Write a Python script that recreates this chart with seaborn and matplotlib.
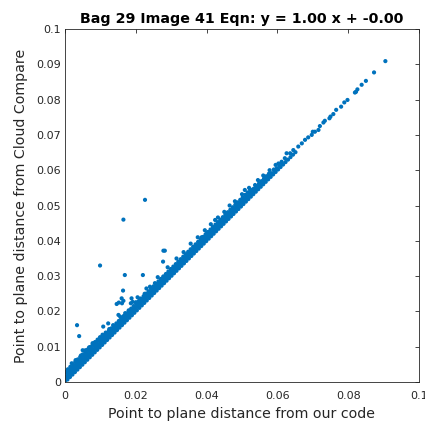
import matplotlib
matplotlib.use("Agg")
import matplotlib.pyplot as plt
import pandas as pd
import seaborn as sns

# Point-to-plane distances (m): our implementation vs. CloudCompare

# main diagonal of the dense band (both tools agree)
band_ours = [0.0000, 0.0007, 0.0014, 0.0021, 0.0028, 0.0035, 0.0042, 0.0049, 0.0056, 0.0063,
             0.0070, 0.0077, 0.0084, 0.0091, 0.0098, 0.0105, 0.0112, 0.0119, 0.0126, 0.0133,
             0.0140, 0.0147, 0.0154, 0.0161, 0.0168, 0.0175, 0.0182, 0.0189, 0.0196, 0.0203,
             0.0210, 0.0217, 0.0224, 0.0231, 0.0238, 0.0245, 0.0252, 0.0259, 0.0266, 0.0273,
             0.0280, 0.0287, 0.0294, 0.0301, 0.0308, 0.0315, 0.0322, 0.0329, 0.0336, 0.0343,
             0.0350, 0.0357, 0.0364, 0.0371, 0.0378, 0.0385, 0.0392, 0.0399, 0.0406, 0.0413,
             0.0420, 0.0427, 0.0434, 0.0441, 0.0448, 0.0455, 0.0462, 0.0469, 0.0476, 0.0483,
             0.0490, 0.0497, 0.0504, 0.0511, 0.0518, 0.0525, 0.0532, 0.0539, 0.0546, 0.0553,
             0.0560, 0.0567, 0.0574, 0.0581, 0.0588, 0.0595, 0.0602, 0.0609, 0.0616, 0.0623,
             0.0630, 0.0637, 0.0644, 0.0651]
band_cc = [0.0000, 0.0007, 0.0014, 0.0021, 0.0028, 0.0035, 0.0042, 0.0049, 0.0056, 0.0063,
           0.0070, 0.0077, 0.0084, 0.0091, 0.0098, 0.0105, 0.0112, 0.0119, 0.0126, 0.0133,
           0.0140, 0.0147, 0.0154, 0.0161, 0.0168, 0.0175, 0.0182, 0.0189, 0.0196, 0.0203,
           0.0210, 0.0217, 0.0224, 0.0231, 0.0238, 0.0245, 0.0252, 0.0259, 0.0266, 0.0273,
           0.0280, 0.0287, 0.0294, 0.0301, 0.0308, 0.0315, 0.0322, 0.0329, 0.0336, 0.0343,
           0.0350, 0.0357, 0.0364, 0.0371, 0.0378, 0.0385, 0.0392, 0.0399, 0.0406, 0.0413,
           0.0420, 0.0427, 0.0434, 0.0441, 0.0448, 0.0455, 0.0462, 0.0469, 0.0476, 0.0483,
           0.0490, 0.0497, 0.0504, 0.0511, 0.0518, 0.0525, 0.0532, 0.0539, 0.0546, 0.0553,
           0.0560, 0.0567, 0.0574, 0.0581, 0.0588, 0.0595, 0.0602, 0.0609, 0.0616, 0.0623,
           0.0630, 0.0637, 0.0644, 0.0651]

# second layer of the band, CloudCompare slightly larger
layer2_ours = [0.00035, 0.00105, 0.00175, 0.00245, 0.00315, 0.00385, 0.00455, 0.00525, 0.00595, 0.00665,
               0.00735, 0.00805, 0.00875, 0.00945, 0.01015, 0.01085, 0.01155, 0.01225, 0.01295, 0.01365,
               0.01435, 0.01505, 0.01575, 0.01645, 0.01715, 0.01785, 0.01855, 0.01925, 0.01995, 0.02065,
               0.02135, 0.02205, 0.02275, 0.02345, 0.02415, 0.02485, 0.02555, 0.02625, 0.02695, 0.02765,
               0.02835, 0.02905, 0.02975, 0.03045, 0.03115, 0.03185, 0.03255, 0.03325, 0.03395, 0.03465,
               0.03535, 0.03605, 0.03675, 0.03745, 0.03815, 0.03885, 0.03955, 0.04025, 0.04095, 0.04165,
               0.04235, 0.04305, 0.04375, 0.04445, 0.04515, 0.04585, 0.04655, 0.04725, 0.04795, 0.04865,
               0.04935, 0.05005, 0.05075, 0.05145, 0.05215, 0.05285, 0.05355, 0.05425, 0.05495, 0.05565,
               0.05635, 0.05705, 0.05775, 0.05845, 0.05915, 0.05985, 0.06055, 0.06125]
layer2_cc = [0.00105, 0.00175, 0.00245, 0.00315, 0.00385, 0.00455, 0.00525, 0.00595, 0.00665, 0.00735,
             0.00805, 0.00875, 0.00945, 0.01015, 0.01085, 0.01155, 0.01225, 0.01295, 0.01365, 0.01435,
             0.01505, 0.01575, 0.01645, 0.01715, 0.01785, 0.01855, 0.01925, 0.01995, 0.02065, 0.02135,
             0.02205, 0.02275, 0.02345, 0.02415, 0.02485, 0.02555, 0.02625, 0.02695, 0.02765, 0.02835,
             0.02905, 0.02975, 0.03045, 0.03115, 0.03185, 0.03255, 0.03325, 0.03395, 0.03465, 0.03535,
             0.03605, 0.03675, 0.03745, 0.03815, 0.03885, 0.03955, 0.04025, 0.04095, 0.04165, 0.04235,
             0.04305, 0.04375, 0.04445, 0.04515, 0.04585, 0.04655, 0.04725, 0.04795, 0.04865, 0.04935,
             0.05005, 0.05075, 0.05145, 0.05215, 0.05285, 0.05355, 0.05425, 0.05495, 0.05565, 0.05635,
             0.05705, 0.05775, 0.05845, 0.05915, 0.05985, 0.06055, 0.06125, 0.06195]

# third layer of the band
layer3_ours = [0.0002, 0.0009, 0.0016, 0.0023, 0.0030, 0.0037, 0.0044, 0.0051, 0.0058, 0.0065,
               0.0072, 0.0079, 0.0086, 0.0093, 0.0100, 0.0107, 0.0114, 0.0121, 0.0128, 0.0135,
               0.0142, 0.0149, 0.0156, 0.0163, 0.0170, 0.0177, 0.0184, 0.0191, 0.0198, 0.0205,
               0.0212, 0.0219, 0.0226, 0.0233, 0.0240, 0.0247, 0.0254, 0.0261, 0.0268, 0.0275,
               0.0282, 0.0289, 0.0296, 0.0303, 0.0310, 0.0317, 0.0324, 0.0331, 0.0338, 0.0345,
               0.0352, 0.0359, 0.0366, 0.0373, 0.0380, 0.0387, 0.0394, 0.0401, 0.0408, 0.0415,
               0.0422, 0.0429, 0.0436, 0.0443, 0.0450, 0.0457, 0.0464, 0.0471, 0.0478, 0.0485,
               0.0492, 0.0499, 0.0506, 0.0513, 0.0520, 0.0527, 0.0534, 0.0541, 0.0548, 0.0555,
               0.0562, 0.0569, 0.0576]
layer3_cc = [0.0016, 0.0023, 0.0030, 0.0037, 0.0044, 0.0051, 0.0058, 0.0065, 0.0072, 0.0079,
             0.0086, 0.0093, 0.0100, 0.0107, 0.0114, 0.0121, 0.0128, 0.0135, 0.0142, 0.0149,
             0.0156, 0.0163, 0.0170, 0.0177, 0.0184, 0.0191, 0.0198, 0.0205, 0.0212, 0.0219,
             0.0226, 0.0233, 0.0240, 0.0247, 0.0254, 0.0261, 0.0268, 0.0275, 0.0282, 0.0289,
             0.0296, 0.0303, 0.0310, 0.0317, 0.0324, 0.0331, 0.0338, 0.0345, 0.0352, 0.0359,
             0.0366, 0.0373, 0.0380, 0.0387, 0.0394, 0.0401, 0.0408, 0.0415, 0.0422, 0.0429,
             0.0436, 0.0443, 0.0450, 0.0457, 0.0464, 0.0471, 0.0478, 0.0485, 0.0492, 0.0499,
             0.0506, 0.0513, 0.0520, 0.0527, 0.0534, 0.0541, 0.0548, 0.0555, 0.0562, 0.0569,
             0.0576, 0.0583, 0.0590]

# fourth layer, top of the dense band
layer4_ours = [0.0005, 0.0012, 0.0019, 0.0026, 0.0033, 0.0040, 0.0047, 0.0054, 0.0061, 0.0068,
               0.0075, 0.0082, 0.0089, 0.0096, 0.0103, 0.0110, 0.0117, 0.0124, 0.0131, 0.0138,
               0.0145, 0.0152, 0.0159, 0.0166, 0.0173, 0.0180, 0.0187, 0.0194, 0.0201, 0.0208,
               0.0215, 0.0222, 0.0229, 0.0236, 0.0243, 0.0250, 0.0257, 0.0264, 0.0271, 0.0278,
               0.0285, 0.0292, 0.0299, 0.0306, 0.0313, 0.0320, 0.0327, 0.0334, 0.0341, 0.0348,
               0.0355, 0.0362, 0.0369, 0.0376, 0.0383, 0.0390, 0.0397, 0.0404, 0.0411, 0.0418,
               0.0425, 0.0432, 0.0439, 0.0446, 0.0453, 0.0460, 0.0467, 0.0474, 0.0481, 0.0488,
               0.0495, 0.0502, 0.0509, 0.0516, 0.0523]
layer4_cc = [0.0026, 0.0033, 0.0040, 0.0047, 0.0054, 0.0061, 0.0068, 0.0075, 0.0082, 0.0089,
             0.0096, 0.0103, 0.0110, 0.0117, 0.0124, 0.0131, 0.0138, 0.0145, 0.0152, 0.0159,
             0.0166, 0.0173, 0.0180, 0.0187, 0.0194, 0.0201, 0.0208, 0.0215, 0.0222, 0.0229,
             0.0236, 0.0243, 0.0250, 0.0257, 0.0264, 0.0271, 0.0278, 0.0285, 0.0292, 0.0299,
             0.0306, 0.0313, 0.0320, 0.0327, 0.0334, 0.0341, 0.0348, 0.0355, 0.0362, 0.0369,
             0.0376, 0.0383, 0.0390, 0.0397, 0.0404, 0.0411, 0.0418, 0.0425, 0.0432, 0.0439,
             0.0446, 0.0453, 0.0460, 0.0467, 0.0474, 0.0481, 0.0488, 0.0495, 0.0502, 0.0509,
             0.0516, 0.0523, 0.0530, 0.0537, 0.0544]

# extra thickness of the band near the origin
layer5_ours = [0.0001, 0.0008, 0.0015, 0.0022, 0.0029, 0.0036, 0.0043, 0.0050, 0.0057, 0.0064,
               0.0071, 0.0078, 0.0085, 0.0092, 0.0099, 0.0106]
layer5_cc = [0.0029, 0.0036, 0.0043, 0.0050, 0.0057, 0.0064, 0.0071, 0.0078, 0.0085, 0.0092,
             0.0099, 0.0106, 0.0113, 0.0120, 0.0127, 0.0134]

# scattered points along the upper edge of the band
edge_ours = [0.0019, 0.0030, 0.0045, 0.0068, 0.0085, 0.0095, 0.0105, 0.0115, 0.0125, 0.0133,
             0.0156, 0.0170, 0.0180, 0.0200, 0.0212, 0.0225, 0.0240, 0.0254, 0.0278, 0.0306,
             0.0325, 0.0348, 0.0367, 0.0386, 0.0400, 0.0424, 0.0440, 0.0460, 0.0470, 0.0490,
             0.0508, 0.0530, 0.0537, 0.0550, 0.0565, 0.0590,
             0.0205, 0.0230, 0.0262, 0.0290, 0.0315, 0.0335, 0.0355, 0.0375, 0.0395, 0.0412,
             0.0432, 0.0450, 0.0465, 0.0480, 0.0500, 0.0520, 0.0545, 0.0560, 0.0578, 0.0595]
edge_cc = [0.0053, 0.0062, 0.0075, 0.0098, 0.0112, 0.0120, 0.0128, 0.0140, 0.0150, 0.0143,
           0.0185, 0.0195, 0.0203, 0.0226, 0.0236, 0.0250, 0.0270, 0.0280, 0.0298, 0.0322,
           0.0341, 0.0365, 0.0383, 0.0410, 0.0420, 0.0459, 0.0458, 0.0473, 0.0485, 0.0505,
           0.0544, 0.0545, 0.0558, 0.0563, 0.0578, 0.0602,
           0.0240, 0.0265, 0.0297, 0.0325, 0.0350, 0.0368, 0.0392, 0.0410, 0.0430, 0.0447,
           0.0466, 0.0482, 0.0500, 0.0512, 0.0532, 0.0550, 0.0572, 0.0585, 0.0600, 0.0615]

# sparse points at the far end of the range
tail_ours = [0.0603, 0.0612, 0.0621, 0.0626, 0.0636, 0.0645, 0.0659, 0.0669, 0.0678, 0.0687,
             0.0697, 0.0700, 0.0706, 0.0716, 0.0720, 0.0730, 0.0734, 0.0747, 0.0750, 0.0758,
             0.0766, 0.0780, 0.0789, 0.0798, 0.0819, 0.0822, 0.0826, 0.0838, 0.0850, 0.0873,
             0.0905]
tail_cc = [0.0619, 0.0624, 0.0634, 0.0648, 0.0648, 0.0657, 0.0667, 0.0676, 0.0686, 0.0693,
           0.0700, 0.0709, 0.0709, 0.0714, 0.0725, 0.0735, 0.0740, 0.0747, 0.0752, 0.0759,
           0.0771, 0.0780, 0.0792, 0.0799, 0.0820, 0.0822, 0.0829, 0.0842, 0.0853, 0.0877,
           0.0909]

# isolated outliers well above the band
outlier_ours = [0.0226, 0.0165, 0.0099, 0.0278, 0.0282, 0.0277, 0.0169, 0.0220, 0.0164, 0.0160,
                0.0188, 0.0034, 0.0040, 0.0050, 0.0058, 0.0078, 0.0146, 0.0152, 0.0161, 0.0165,
                0.0186, 0.0191, 0.0108, 0.0122, 0.0136, 0.0151]
outlier_cc = [0.0516, 0.0460, 0.0330, 0.0372, 0.0372, 0.0341, 0.0303, 0.0303, 0.0259, 0.0237,
              0.0237, 0.0161, 0.0130, 0.0090, 0.0090, 0.0110, 0.0221, 0.0225, 0.0223, 0.0230,
              0.0223, 0.0227, 0.0157, 0.0166, 0.0161, 0.0190]

title_text = "Bag 29 Image 41 Eqn: y = 1.00 x + -0.00"

x_ticks = [0, 0.02, 0.04, 0.06, 0.08, 0.1]
x_tick_labels = ["0", "0.02", "0.04", "0.06", "0.08", "0.1"]
y_ticks = [0, 0.01, 0.02, 0.03, 0.04, 0.05, 0.06, 0.07, 0.08, 0.09, 0.1]
y_tick_labels = ["0", "0.01", "0.02", "0.03", "0.04", "0.05", "0.06", "0.07", "0.08", "0.09", "0.1"]

df = pd.DataFrame({
    "ours": (band_ours + layer2_ours + layer3_ours + layer4_ours + layer5_ours
             + edge_ours + tail_ours + outlier_ours),
    "cc": (band_cc + layer2_cc + layer3_cc + layer4_cc + layer5_cc
           + edge_cc + tail_cc + outlier_cc),
})

sns.set_style("white")
plt.rcParams["font.family"] = ["DejaVu Sans"]

axis_gray = "#262626"
dot_blue = "#0072BD"

fig = plt.figure(figsize=(4.25, 4.22), dpi=100)
ax = fig.add_axes([65 / 425, 40 / 422, 354 / 425, 353 / 422])

sns.scatterplot(data=df, x="ours", y="cc", ax=ax, color=dot_blue, s=9,
                linewidth=0, edgecolor="none", legend=False)

ax.set_xlim(0, 0.1)
ax.set_ylim(0, 0.1)
ax.set_xticks(x_ticks)
ax.set_xticklabels(x_tick_labels)
ax.set_yticks(y_ticks)
ax.set_yticklabels(y_tick_labels)

for side in ["top", "right", "bottom", "left"]:
    ax.spines[side].set_visible(True)
    ax.spines[side].set_color(axis_gray)
    ax.spines[side].set_linewidth(0.6)

ax.tick_params(direction="in", length=3, width=0.6, colors=axis_gray,
               labelsize=8, top=True, right=True)
ax.tick_params(axis="x", pad=6.5)
ax.tick_params(axis="y", pad=3)
for lbl in ax.get_xticklabels() + ax.get_yticklabels():
    lbl.set_color(axis_gray)

ax.set_xlabel("Point to plane distance from our code", fontsize=10.2, color=axis_gray, labelpad=4)
ax.set_ylabel("Point to plane distance from Cloud Compare", fontsize=10.2, color=axis_gray, labelpad=6)
ax.set_title(title_text, fontsize=10.3, fontweight="bold", color="black", pad=4)

fig.savefig("out.png", dpi=100)
